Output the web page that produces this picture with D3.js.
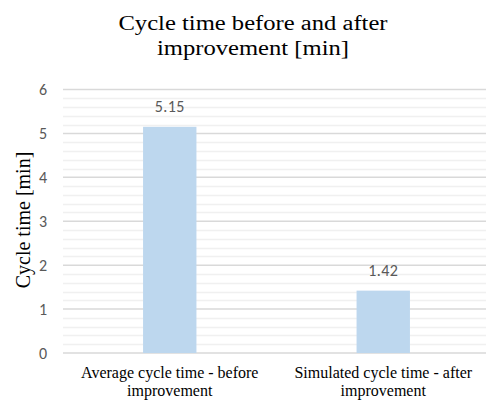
<!DOCTYPE html>
<html><head><meta charset="utf-8">
<script src="https://cdn.jsdelivr.net/npm/d3@7"></script>
<style>body{margin:0;background:#fff}</style>
</head><body>
<svg id="c" width="486" height="403"></svg>
<script>
const categories = [["Average cycle time - before","improvement"],["Simulated cycle time - after","improvement"]];
const values = [5.15, 1.42];
const labels = ["5.15","1.42"];
const yTicks = [0,1,2,3,4,5,6];
const yMinor = d3.range(0, 6.001, 0.2);
const titleLines = ["Cycle time before and after","improvement [min]"];
const yTitle = "Cycle time [min]";

const svg = d3.select("#c");
const W = 486, H = 403;
const m = {l:63, r:-4};
const x = d3.scaleBand().domain(d3.range(categories.length)).range([m.l, W - m.r]).padding(0);
const y = d3.scaleLinear().domain([0,6]).range([353, 89.5]);
const serifF = '"Liberation Serif"';
const sansF = '"Carlito"';

// minor grid
svg.append("g").selectAll("line").data(yMinor.filter(v => Math.abs(v - Math.round(v)) > 1e-6)).join("line")
  .attr("x1", m.l).attr("x2", W).attr("y1", d => Math.round(y(d))+0.5).attr("y2", d => Math.round(y(d))+0.5)
  .attr("stroke", "#f0f0f0").attr("stroke-width", 1.5);
// major grid
svg.append("g").selectAll("line").data(yTicks).join("line")
  .attr("x1", m.l).attr("x2", W).attr("y1", d => y(d)).attr("y2", d => y(d))
  .attr("stroke", "#d9d9d9").attr("stroke-width", 1.5);

// bars
const bw = x.bandwidth() * 0.25;
svg.append("g").selectAll("rect").data(values).join("rect")
  .attr("x", (d,i) => x(i) + (x.bandwidth() - bw)/2)
  .attr("width", bw)
  .attr("y", d => y(d))
  .attr("height", d => y(0) - y(d))
  .attr("fill", "#BDD7EE");

// data labels
svg.append("g").selectAll("text").data(values).join("text")
  .attr("x", (d,i) => x(i) + x.bandwidth()/2)
  .attr("y", d => y(d) - 14.5)
  .attr("text-anchor", "middle")
  .style("font-family", sansF).style("font-size", "16px").style("letter-spacing", "0.4px").attr("fill", "#595959")
  .text((d,i) => labels[i]);

// y tick labels
const yAxis = d3.axisLeft(y).tickValues(yTicks).tickFormat(d3.format("d")).tickSize(0).tickPadding(16);
const ga = svg.append("g").attr("transform", `translate(${m.l},0)`).call(yAxis);
ga.select(".domain").remove();
ga.selectAll("text").style("font-family", sansF).style("font-size", "16px").attr("fill", "#595959");

// x labels
const xl = svg.append("g").selectAll("text").data(categories).join("text")
  .attr("x", (d,i) => x(i) + x.bandwidth()/2)
  .attr("y", 378)
  .attr("text-anchor", "middle")
  .style("font-family", serifF).style("font-size", "16px").attr("fill", "#000");
xl.each(function(d){
  const t = d3.select(this);
  d.forEach((s,k) => t.append("tspan").attr("x", t.attr("x")).attr("dy", k ? 18 : 0).text(s));
});

// title (wider serif look: stretch horizontally)
svg.append("g").selectAll("text").data(titleLines).join("text")
  .attr("x", 253).attr("y", (d,k) => 30 + k*25)
  .attr("text-anchor","middle").style("font-family", serifF).style("font-size", "20.5px").attr("fill","#000")
  .text(d => d)
  .each(function(){
    const n = this.getComputedTextLength();
    d3.select(this).attr("textLength", n * 1.2).attr("lengthAdjust", "spacingAndGlyphs");
  });

// y title
svg.append("text").attr("transform", "translate(30,220) rotate(-90)")
  .attr("text-anchor","middle").style("font-family", serifF).style("font-size", "20px").attr("fill","#000")
  .text(yTitle);
</script>
</body></html>
